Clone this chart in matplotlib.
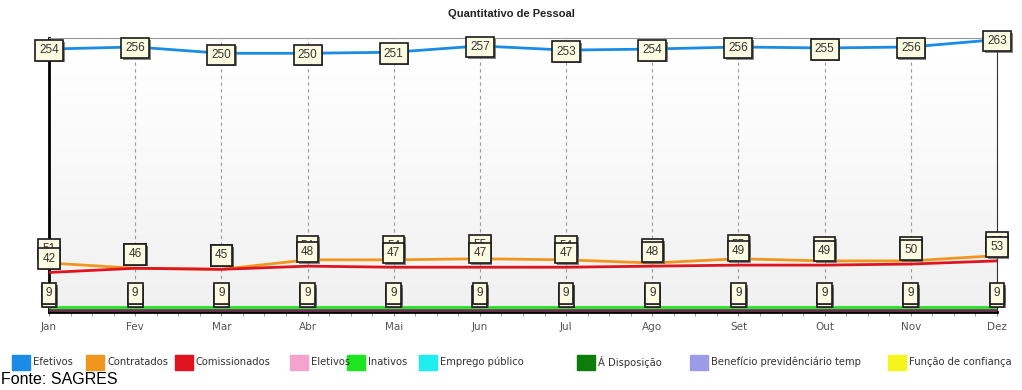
import matplotlib.pyplot as plt
import numpy as np
from matplotlib.patches import Rectangle
import matplotlib.patheffects as pe

plt.rcParams['font.family'] = ['Liberation Sans', 'DejaVu Sans']

meses = ['Jan', 'Fev', 'Mar', 'Abr', 'Mai', 'Jun', 'Jul', 'Ago', 'Set', 'Out', 'Nov', 'Dez']
efetivos = [254, 256, 250, 250, 251, 257, 253, 254, 256, 255, 256, 263]
contratados = [51, 46, 45, 54, 54, 55, 54, 51, 55, 53, 53, 58]
comissionados = [42, 46, 45, 48, 47, 47, 47, 48, 49, 49, 50, 53]
eletivos2 = [6, 6, 6, 6, 6, 6, 6, 6, 6, 6, 6, 6]
inativos = [9, 9, 9, 9, 9, 9, 9, 9, 9, 9, 9, 9]

legenda = ['Efetivos', 'Contratados', 'Comissionados', 'Eletivos', 'Inativos', 'Emprego público',
           'Á Disposição', 'Benefício previdênciário temp', 'Função de confiança']
cores = ['#1a8ce6', '#f0961e', '#e0141e', '#f4a3cc', '#1ee61e', '#1eeef0', '#0a7d0a', '#9b9be8', '#f5f51e']
# posicao (px) do quadrado de cada item da legenda
leg_x = [12, 86, 175, 290, 347, 419, 577, 690, 888]

x = np.arange(len(meses))

fig = plt.figure(figsize=(10.22, 3.9), dpi=100)
ax = fig.add_axes([49 / 1022, 78 / 390, 948 / 1022, 274 / 390])

# fundo levemente acinzentado
grad = np.linspace(0.94, 1.0, 50).reshape(-1, 1)
ax.imshow(grad, extent=[0, 1, 0, 1], transform=ax.transAxes, cmap='gray', vmin=0, vmax=1,
          aspect='auto', zorder=0, origin='lower')

ax.plot(x, eletivos2, color='#6a3050', lw=2, zorder=3)
ax.plot(x, inativos, color=cores[4], lw=2, zorder=3)
ax.plot(x, contratados, color=cores[1], lw=2, zorder=3)
ax.plot(x, comissionados, color=cores[2], lw=2, zorder=3)
ax.plot(x, efetivos, color=cores[0], lw=2, zorder=3)

box = dict(boxstyle='square,pad=0.35', fc='#fbfbe2', ec='#1a1a1a', lw=1.2)
sombra = [pe.SimplePatchShadow(offset=(1.2, -1.2), shadow_rgbFace='#555555', alpha=0.7), pe.Normal()]

def rotulos(vals, dy, z):
    for i, v in enumerate(vals):
        t = ax.annotate(str(v), (x[i], v), xytext=(0, dy), textcoords='offset points',
                        ha='center', va='center', fontsize=8.5, color='#333333',
                        bbox=box, zorder=z, annotation_clip=False)
        t.get_bbox_patch().set_path_effects(sombra)

rotulos(contratados, 10, 5)
rotulos(comissionados, 10, 6)
rotulos(eletivos2, 10, 5)
rotulos(inativos, 10, 6)
rotulos(efetivos, -1, 6)

ax.set_xlim(0, 11)
ax.set_ylim(4.5, 264.5)
ax.set_yticks([])
ax.set_xticks(x)
ax.set_xticklabels(meses, fontsize=7.5, color='#555555', family='DejaVu Sans')
ax.set_xticks(np.arange(0, 11.01, 0.25), minor=True)
ax.tick_params(axis='x', which='both', length=3, color='#888888', pad=4)
ax.grid(axis='x', which='major', ls=(0, (3, 3)), color='#999999', lw=0.8, zorder=1)

for s in ['left', 'bottom']:
    ax.spines[s].set_linewidth(2)
    ax.spines[s].set_color('black')
ax.spines['right'].set_color('#333333')
ax.spines['top'].set_color('#999999')
ax.spines['top'].set_linewidth(0.8)

fig.text(0.5, 1 - 14 / 390, 'Quantitativo de Pessoal', ha='center', va='center',
         fontsize=8, fontweight='bold', color='#222222')

for nome, cor, px in zip(legenda, cores, leg_x):
    fig.add_artist(Rectangle((px / 1022, 1 - 370 / 390), 18 / 1022, 15 / 390,
                             transform=fig.transFigure, color=cor))
    fig.text((px + 21) / 1022, 1 - 362 / 390, nome, ha='left', va='center',
             fontsize=7.2, color='#333333', family='DejaVu Sans')

fig.text(0.001, 1 - 380 / 390, 'Fonte: SAGRES', ha='left', va='center', fontsize=11.5)

fig.savefig('out.png', dpi=100)
